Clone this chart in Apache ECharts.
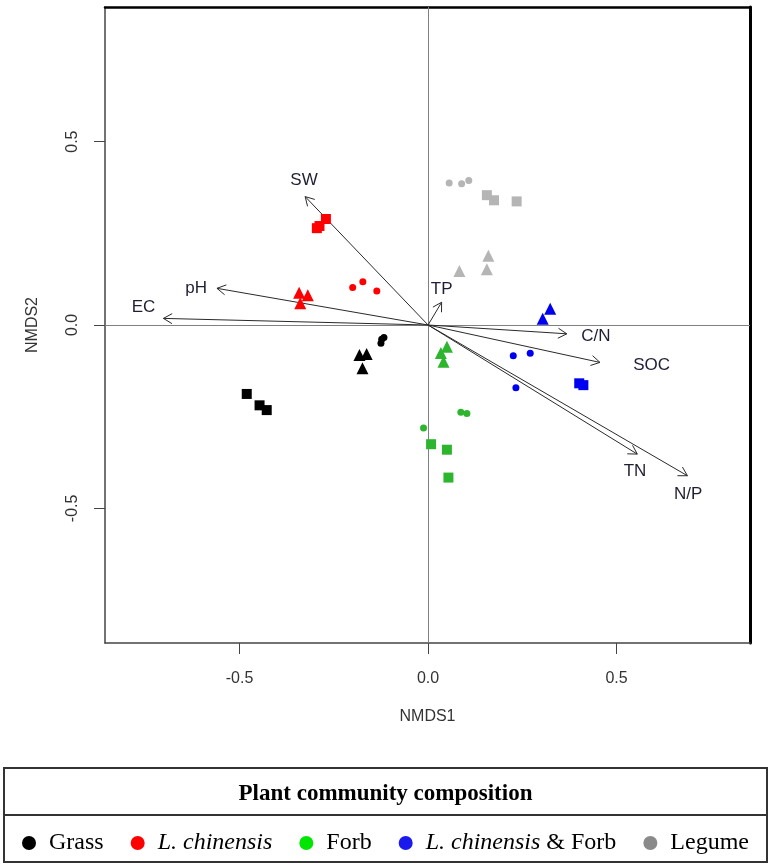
<!DOCTYPE html>
<html>
<head>
<meta charset="utf-8">
<script src="https://cdn.jsdelivr.net/npm/echarts@6/dist/echarts.min.js"></script>
<style>
html,body{margin:0;padding:0;background:#fff;}
#chart{width:771px;height:866px;}
</style>
</head>
<body>
<div id="chart"></div>
<script>
// ---- Data ----
const groupNames = ['Grass', 'L. chinensis', 'Forb', 'L. chinensis & Forb', 'Legume'];

// each point: [NMDS1, NMDS2, shape]
const grassPoints = [
  [-0.481, -0.188, 'rect'], [-0.447, -0.219, 'rect'], [-0.428, -0.232, 'rect'],
  [-0.182, -0.082, 'triangle'], [-0.163, -0.079, 'triangle'], [-0.174, -0.118, 'triangle'],
  [-0.123, -0.039, 'circle'], [-0.117, -0.034, 'circle'], [-0.125, -0.050, 'circle']
];
const chinensisPoints = [
  [-0.271, 0.289, 'rect'], [-0.295, 0.264, 'rect'], [-0.288, 0.270, 'rect'],
  [-0.200, 0.102, 'circle'], [-0.173, 0.118, 'circle'], [-0.136, 0.093, 'circle'],
  [-0.342, 0.088, 'triangle'], [-0.319, 0.081, 'triangle'], [-0.339, 0.059, 'triangle']
];
const forbPoints = [
  [0.050, -0.059, 'triangle'], [0.034, -0.076, 'triangle'], [0.041, -0.100, 'triangle'],
  [0.087, -0.238, 'circle'], [0.103, -0.241, 'circle'], [-0.012, -0.281, 'circle'],
  [0.008, -0.325, 'rect'], [0.050, -0.340, 'rect'], [0.054, -0.416, 'rect']
];
const chinForbPoints = [
  [0.324, 0.044, 'triangle'], [0.304, 0.017, 'triangle'],
  [0.226, -0.084, 'circle'], [0.271, -0.077, 'circle'], [0.233, -0.171, 'circle'],
  [0.401, -0.159, 'rect'], [0.412, -0.164, 'rect']
];
const legumePoints = [
  [0.056, 0.387, 'circle'], [0.089, 0.385, 'circle'], [0.108, 0.394, 'circle'],
  [0.156, 0.354, 'rect'], [0.175, 0.340, 'rect'], [0.235, 0.337, 'rect'],
  [0.160, 0.189, 'triangle'], [0.083, 0.147, 'triangle'], [0.156, 0.152, 'triangle']
];

// environmental vectors
const vectorNames = ['SW', 'pH', 'EC', 'TP', 'C/N', 'SOC', 'TN', 'N/P'];
const vectorX     = [-0.326, -0.560, -0.702, 0.036, 0.368, 0.456, 0.555, 0.688];
const vectorY     = [ 0.350,  0.100,  0.018, 0.062, -0.024, -0.102, -0.352, -0.411];
const vectorLabelX = [-0.329, -0.615, -0.755, 0.036, 0.445, 0.593, 0.549, 0.690];
const vectorLabelY = [ 0.395,  0.101,  0.048, 0.097, -0.032, -0.109, -0.400, -0.462];

const tickValues = [-0.5, 0, 0.5];

// ---- Styles ----
const pointColors  = ['#000000', '#ff0000', '#2db52d', '#0000f0', '#b5b5b5'];
const legendColors = ['#000000', '#ff0000', '#00e600', '#1a1aee', '#8a8a8a'];
const groupData = [grassPoints, chinensisPoints, forbPoints, chinForbPoints, legumePoints];

function symSize(v) {
  if (v[2] === 'rect') return 10;
  if (v[2] === 'triangle') return 12;
  return 7;
}

const scatterSeries = groupNames.map((name, i) => {
  const s = {
    name: name,
    type: 'scatter',
    z: 5,
    data: groupData[i],
    symbol: v => v[2],
    symbolSize: symSize,
    itemStyle: { color: pointColors[i], opacity: 1 },
    emphasis: { disabled: true }
  };
  if (i === 0) {
    s.markLine = {
      silent: true,
      symbol: 'none',
      z: 1,
      label: { show: false },
      lineStyle: { color: '#808080', width: 1, type: 'solid' },
      data: [{ xAxis: 0 }, { yAxis: 0 }]
    };
  }
  return s;
});

const vectorData = vectorNames.map((n, i) => [vectorX[i], vectorY[i], vectorLabelX[i], vectorLabelY[i]]);

const vectorSeries = {
  type: 'custom',
  name: 'vectors',
  z: 3,
  silent: true,
  encode: { x: 0, y: 1 },
  data: vectorData,
  renderItem: function (params, api) {
    const p0 = api.coord([0, 0]);
    const p1 = api.coord([api.value(0), api.value(1)]);
    const ang = Math.atan2(p1[1] - p0[1], p1[0] - p0[0]);
    const L = 10, a = Math.PI / 6;
    const h1 = [p1[0] - L * Math.cos(ang - a), p1[1] - L * Math.sin(ang - a)];
    const h2 = [p1[0] - L * Math.cos(ang + a), p1[1] - L * Math.sin(ang + a)];
    const lp = api.coord([api.value(2), api.value(3)]);
    return {
      type: 'group',
      children: [
        { type: 'line', shape: { x1: p0[0], y1: p0[1], x2: p1[0], y2: p1[1] },
          style: { stroke: '#2a2a2a', lineWidth: 1 } },
        { type: 'polyline', shape: { points: [h1, p1, h2] },
          style: { stroke: '#2a2a2a', lineWidth: 1, fill: null } },
        { type: 'text', x: lp[0], y: lp[1],
          style: { text: vectorNames[params.dataIndex], fill: '#1f1f33',
                   fontSize: 17, fontFamily: 'Liberation Sans, Arial, sans-serif',
                   align: 'center', verticalAlign: 'middle' } }
      ]
    };
  }
};

const chart = echarts.init(document.getElementById('chart'), null, { renderer: 'canvas' });

const axisFont = { fontSize: 16, fontFamily: 'Liberation Sans, Arial, sans-serif', color: '#333' };

chart.setOption({
  animation: false,
  backgroundColor: '#fff',
  title: {
    text: 'Plant community composition',
    left: 'center',
    top: 778,
    textStyle: { fontFamily: 'Liberation Serif, Times New Roman, serif', fontWeight: 'bold', fontSize: 23, color: '#000' }
  },
  legend: {
    data: groupNames.map((n, i) => ({ name: n, itemStyle: { color: legendColors[i] } })),
    icon: 'circle',
    itemWidth: 14,
    itemHeight: 17,
    itemGap: 27,
    left: 'center',
    top: 826,
    selectedMode: false,
    formatter: function (name) {
      if (name === 'L. chinensis') return '{i|L. chinensis}';
      if (name === 'L. chinensis & Forb') return '{i|L. chinensis} & Forb';
      return name;
    },
    textStyle: {
      fontFamily: 'Liberation Serif, Times New Roman, serif', fontSize: 24, color: '#000',
      padding: [0, 0, 0, 8],
      rich: { i: { fontFamily: 'Liberation Serif, Times New Roman, serif', fontStyle: 'italic', fontSize: 24, color: '#000' } }
    }
  },
  graphic: [
    { type: 'rect', shape: { x: 4, y: 768, width: 763, height: 94 },
      style: { fill: null, stroke: '#333', lineWidth: 2 } },
    { type: 'line', shape: { x1: 4, y1: 815, x2: 767, y2: 815 },
      style: { stroke: '#333', lineWidth: 2 } }
  ],
  grid: { left: 105, right: 21, top: 7, bottom: 223, containLabel: false },
  xAxis: [
    {
      type: 'value', min: -0.857, max: 0.854, position: 'bottom',
      name: 'NMDS1', nameLocation: 'middle', nameGap: 66,
      nameTextStyle: axisFont,
      axisLine: { show: true, onZero: false, lineStyle: { color: '#444', width: 1.5 } },
      axisTick: { show: true, length: 11, customValues: tickValues, lineStyle: { color: '#444' } },
      axisLabel: { customValues: tickValues, formatter: v => Number(v).toFixed(1), margin: 28, ...axisFont },
      splitLine: { show: false }
    },
    {
      type: 'value', min: -0.857, max: 0.854, position: 'top',
      axisLine: { show: true, onZero: false, lineStyle: { color: '#000', width: 2.5 } },
      axisTick: { show: false }, axisLabel: { show: false }, splitLine: { show: false }
    }
  ],
  yAxis: [
    {
      type: 'value', min: -0.867, max: 0.867, position: 'left',
      name: 'NMDS2', nameLocation: 'middle', nameGap: 64, nameRotate: 90,
      nameTextStyle: axisFont,
      axisLine: { show: true, onZero: false, lineStyle: { color: '#444', width: 1.5 } },
      axisTick: { show: true, length: 11, customValues: tickValues, lineStyle: { color: '#444' } },
      axisLabel: { customValues: tickValues, rotate: 90, formatter: v => Number(v).toFixed(1), margin: 24, ...axisFont },
      splitLine: { show: false }
    },
    {
      type: 'value', min: -0.867, max: 0.867, position: 'right',
      axisLine: { show: true, onZero: false, lineStyle: { color: '#000', width: 3 } },
      axisTick: { show: false }, axisLabel: { show: false }, splitLine: { show: false }
    }
  ],
  series: [vectorSeries].concat(scatterSeries)
});
</script>
</body>
</html>
